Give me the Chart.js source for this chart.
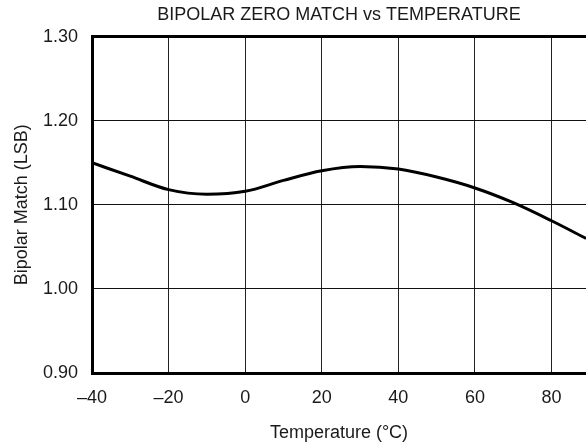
<!DOCTYPE html>
<html>
<head>
<meta charset="utf-8">
<script src="https://cdn.jsdelivr.net/npm/chart.js@4"></script>
<style>
  html, body { margin: 0; padding: 0; background: #fff; overflow: hidden; }
  #wrap { width: 586px; height: 447px; position: relative; }
</style>
</head>
<body>
<div id="wrap"><canvas id="c"></canvas></div>
<script>
const chartTitle = 'BIPOLAR ZERO MATCH vs TEMPERATURE';
const xTitle = 'Temperature (°C)';
const yTitle = 'Bipolar Match (LSB)';
const temperatures = [-40, -30, -20, -10, 0, 10, 20, 30, 40, 50, 60, 70, 80, 89];
const bipolarMatch = [1.150, 1.134, 1.118, 1.1125, 1.116, 1.129, 1.1405, 1.1455, 1.1425, 1.133, 1.120, 1.1025, 1.081, 1.060];
const xTicks = [-40, -20, 0, 20, 40, 60, 80];
const yTicks = [0.90, 1.00, 1.10, 1.20, 1.30];
const xMin = -40, xMax = 89;
const yMin = 0.90, yMax = 1.30;

const font = { family: '"Liberation Sans", Arial, sans-serif', size: 18 };
const textColor = '#1a1a1a';
const fmtX = v => (v < 0 ? '\u2013' + Math.abs(v) : String(v));

new Chart(document.getElementById('c'), {
  type: 'line',
  data: {
    datasets: [{
      data: temperatures.map((t, i) => ({ x: t, y: bipolarMatch[i] })),
      borderColor: '#000',
      borderWidth: 3,
      pointRadius: 0,
      fill: false,
      cubicInterpolationMode: 'monotone'
    }]
  },
  options: {
    responsive: true,
    maintainAspectRatio: false,
    animation: false,
    layout: { padding: { left: 0, right: 0, top: 2, bottom: 0 } },
    plugins: { legend: { display: false }, tooltip: { enabled: false }, title: { display: false } },
    scales: {
      x: {
        type: 'linear', position: 'bottom', min: xMin, max: xMax,
        afterBuildTicks: s => { s.ticks = xTicks.map(v => ({ value: v })); },
        afterFit: s => { s.height = 74; },
        ticks: { font, color: textColor, padding: 14, maxRotation: 0, callback: v => fmtX(v) },
        grid: { color: '#222', lineWidth: 1, drawTicks: false },
        border: { display: true, color: '#000', width: 3 },
        title: { display: true, text: xTitle, font, color: textColor, padding: { top: 8, bottom: 3 } }
      },
      x2: {
        type: 'linear', position: 'top', min: xMin, max: xMax,
        ticks: { display: false },
        grid: { display: false, drawTicks: false },
        border: { display: true, color: '#000', width: 3 },
        title: { display: true, text: chartTitle, font, color: textColor, padding: { top: 2, bottom: 11 } }
      },
      y: {
        type: 'linear', position: 'left', min: yMin, max: yMax,
        afterBuildTicks: s => { s.ticks = yTicks.map(v => ({ value: v })); },
        afterFit: s => { s.width = 92; },
        ticks: { font, color: textColor, padding: 14, callback: v => v.toFixed(2) },
        grid: { color: '#111', lineWidth: 1, drawTicks: false },
        border: { display: true, color: '#000', width: 3 },
        title: { display: true, text: yTitle, font, color: textColor, padding: { top: 11, bottom: 4 } }
      }
    }
  }
});
</script>
</body>
</html>
